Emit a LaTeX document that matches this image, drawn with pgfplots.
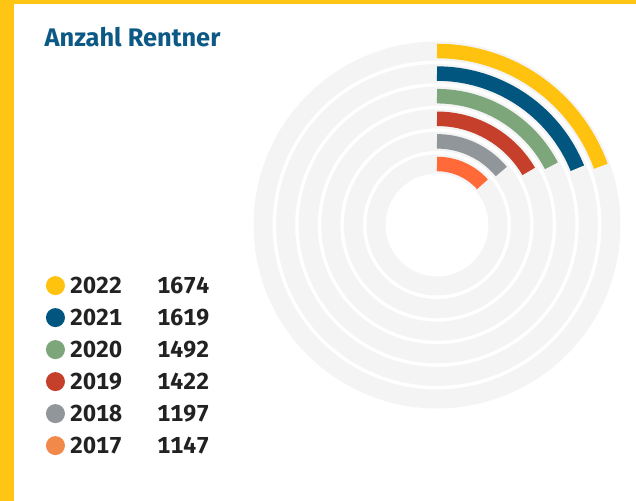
\documentclass[border=0pt]{standalone}
\usepackage{pgfplots}
\pgfplotsset{compat=1.18}
\usepackage{fontspec}
\setmainfont{Fira Sans}
\definecolor{cY}{HTML}{FFC20E}
\definecolor{cB}{HTML}{00567F}
\definecolor{cG}{HTML}{7DA77B}
\definecolor{cR}{HTML}{C53F2A}
\definecolor{cGr}{HTML}{90969A}
\definecolor{cO}{HTML}{FF6A38}
\definecolor{cOl}{HTML}{F0894A}
\definecolor{cBg}{HTML}{F4F4F4}
\definecolor{cTitle}{HTML}{0D5986}
\definecolor{cText}{HTML}{222222}
\definecolor{cBorder}{HTML}{FFC514}
% full circle corresponds to this value
\newcommand{\fullturn}{8575}
\newcommand{\entry}[2]{\makebox[87.3bp][l]{#1}#2}
\begin{document}
\begin{tikzpicture}
\begin{axis}[
  width=636bp, height=501bp, scale only axis,
  xmin=0, xmax=636, ymin=-501, ymax=0,
  hide axis, clip=false,
  legend cell align=left,
  legend style={at={(axis cs:38.5,-275.8)}, anchor=north west, draw=none, fill=none,
    font=\fontsize{23.2}{26}\selectfont\bfseries\addfontfeatures{Numbers=Monospaced}\color{cText},
    row sep=0bp, inner sep=0pt,
    nodes={inner sep=0pt, text height=17.6bp, text depth=14.4bp, anchor=base west}},
]
% frame
\fill[white] (axis cs:0,-501) rectangle (axis cs:636,0);
\fill[cBorder] (axis cs:0,-501) rectangle (axis cs:14,0);
\fill[cBorder] (axis cs:0,-4) rectangle (axis cs:636,0);
% background tracks
\foreach \r in {174,151.4,128.8,106.2,83.6,61}{
  \edef\temp{\noexpand\addplot[forget plot, draw=cBg, line width=19bp, domain=0:364, samples=150]
    ({437+\r*sin(x)}, {-225+\r*cos(x)});}
  \temp
}
% bars: domain end = value
\addplot[draw=cY, line width=14.5bp, domain=0:1674, samples=80,
  legend image code/.code={\fill[cY, draw=none] (9.5bp,8bp) circle (9.5bp); \path (0,0) (17bp,0);}]
  ({437+174*sin(x*360/\fullturn)}, {-225+174*cos(x*360/\fullturn)});
\addlegendentry{\entry{2022}{1674}}
\addplot[draw=cB, line width=14.5bp, domain=0:1619, samples=80,
  legend image code/.code={\fill[cB, draw=none] (9.5bp,8bp) circle (9.5bp); \path (0,0) (17bp,0);}]
  ({437+151.4*sin(x*360/\fullturn)}, {-225+151.4*cos(x*360/\fullturn)});
\addlegendentry{\entry{2021}{1619}}
\addplot[draw=cG, line width=14.5bp, domain=0:1492, samples=80,
  legend image code/.code={\fill[cG, draw=none] (9.5bp,8bp) circle (9.5bp); \path (0,0) (17bp,0);}]
  ({437+128.8*sin(x*360/\fullturn)}, {-225+128.8*cos(x*360/\fullturn)});
\addlegendentry{\entry{2020}{1492}}
\addplot[draw=cR, line width=14.5bp, domain=0:1422, samples=80,
  legend image code/.code={\fill[cR, draw=none] (9.5bp,8bp) circle (9.5bp); \path (0,0) (17bp,0);}]
  ({437+106.2*sin(x*360/\fullturn)}, {-225+106.2*cos(x*360/\fullturn)});
\addlegendentry{\entry{2019}{1422}}
\addplot[draw=cGr, line width=14.5bp, domain=0:1197, samples=80,
  legend image code/.code={\fill[cGr, draw=none] (9.5bp,8bp) circle (9.5bp); \path (0,0) (17bp,0);}]
  ({437+83.6*sin(x*360/\fullturn)}, {-225+83.6*cos(x*360/\fullturn)});
\addlegendentry{\entry{2018}{1197}}
\addplot[draw=cO, line width=14.5bp, domain=0:1147, samples=80,
  legend image code/.code={\fill[cOl, draw=none] (9.5bp,8bp) circle (9.5bp); \path (0,0) (17bp,0);}]
  ({437+61*sin(x*360/\fullturn)}, {-225+61*cos(x*360/\fullturn)});
\addlegendentry{\entry{2017}{1147}}
% title
\node[anchor=base west, inner sep=0pt, text=cTitle, font=\fontsize{25.5}{30}\selectfont\bfseries]
  at (axis cs:44.5,-47) {Anzahl Rentner};
\end{axis}
\end{tikzpicture}
\end{document}
